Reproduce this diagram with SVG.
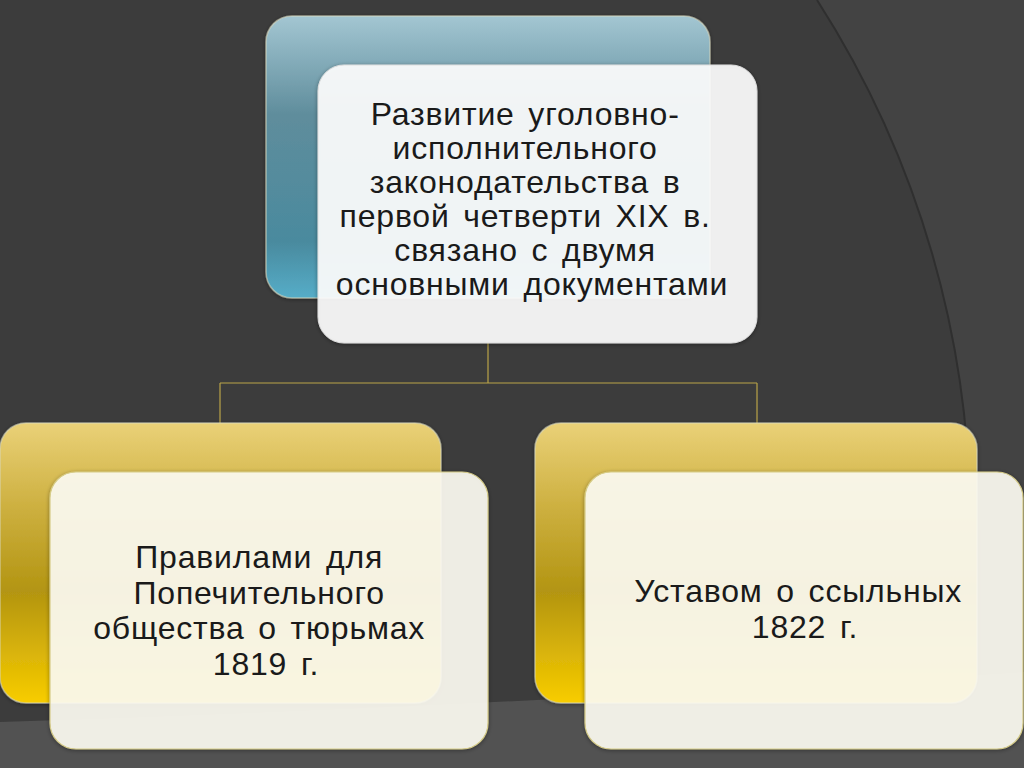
<svg xmlns="http://www.w3.org/2000/svg" width="1024" height="768" viewBox="0 0 1024 768">
<defs>
<linearGradient id="gBlue" x1="0" y1="0" x2="0" y2="1">
<stop offset="0" stop-color="#a3c6d2"/>
<stop offset="0.35" stop-color="#5f8d9c"/>
<stop offset="0.8" stop-color="#4a8a9e"/>
<stop offset="1" stop-color="#55adc8"/>
</linearGradient>
<linearGradient id="gGold" x1="0" y1="0" x2="0" y2="1">
<stop offset="0" stop-color="#ead178"/>
<stop offset="0.3" stop-color="#cdb040"/>
<stop offset="0.6" stop-color="#b39512"/>
<stop offset="1" stop-color="#f8cd00"/>
</linearGradient>
<filter id="sh" x="-10%" y="-10%" width="120%" height="120%">
<feGaussianBlur in="SourceAlpha" stdDeviation="2"/>
<feOffset dx="0" dy="1"/>
<feComponentTransfer><feFuncA type="linear" slope="0.4"/></feComponentTransfer>
<feMerge><feMergeNode/><feMergeNode in="SourceGraphic"/></feMerge>
</filter>
</defs>
<style>
.back{stroke:#d8d8c0;stroke-opacity:0.6;stroke-width:1.5}
.front{stroke:#dddddd;stroke-width:1}
.fg{stroke:#d6cc88;stroke-width:1.2}
.ft{fill:#ffffff;fill-opacity:0.9}
.fc{fill:#fefdf3;fill-opacity:0.9}
.t{font-family:"Liberation Sans",Arial,sans-serif;font-size:32px;letter-spacing:0.8px;word-spacing:4px;fill:#1a1a1a;text-anchor:middle}
.con{stroke:#b9a348;stroke-width:1.2;fill:none}
</style>
<rect x="0" y="0" width="1024" height="768" fill="#3c3c3c"/>
<path d="M817,0 A965,965 0 0 1 970,530 L1024,530 L1024,0 Z" fill="#434343"/>
<path d="M817,0 A965,965 0 0 1 970,530 A965,965 0 0 1 950,768" fill="none" stroke="#2f2f2f" stroke-width="2"/>
<path d="M0,722 Q500,706 1024,672 V768 H0 Z" fill="#525252"/>

<g id="connectors">
<path class="con" d="M488,343 V383 M220,383 H757 M220,383 V424 M757,383 V424"/>
</g>

<g id="node-top">
<rect class="back" x="266" y="16" width="444" height="282" rx="26" fill="url(#gBlue)" filter="url(#sh)"/>
<rect class="front ft" x="318" y="65" width="439" height="278" rx="26" filter="url(#sh)"/>
<text class="t">
<tspan x="532" y="125">Развитие уголовно-</tspan>
<tspan x="532" y="159">исполнительного</tspan>
<tspan x="532" y="193">законодательства в</tspan>
<tspan x="532" y="227">первой четверти XIX в.</tspan>
<tspan x="532" y="261">связано с двумя</tspan>
<tspan x="532" y="295">основными документами</tspan>
</text>
</g>

<g id="node-left">
<rect class="back" x="0" y="423" width="441" height="280" rx="26" fill="url(#gGold)" filter="url(#sh)"/>
<rect class="fg fc" x="50" y="472" width="438" height="277" rx="26" filter="url(#sh)"/>
<text class="t">
<tspan x="266" y="568">Правилами для</tspan>
<tspan x="266" y="604">Попечительного</tspan>
<tspan x="266" y="639">общества о тюрьмах</tspan>
<tspan x="266" y="675">1819 г.</tspan>
</text>
</g>

<g id="node-right">
<rect class="back" x="535" y="423" width="442" height="280" rx="26" fill="url(#gGold)" filter="url(#sh)"/>
<rect class="fg fc" x="585" y="472" width="438" height="277" rx="26" filter="url(#sh)"/>
<text class="t">
<tspan x="805" y="602">Уставом о ссыльных</tspan>
<tspan x="805" y="638">1822 г.</tspan>
</text>
</g>
</svg>
